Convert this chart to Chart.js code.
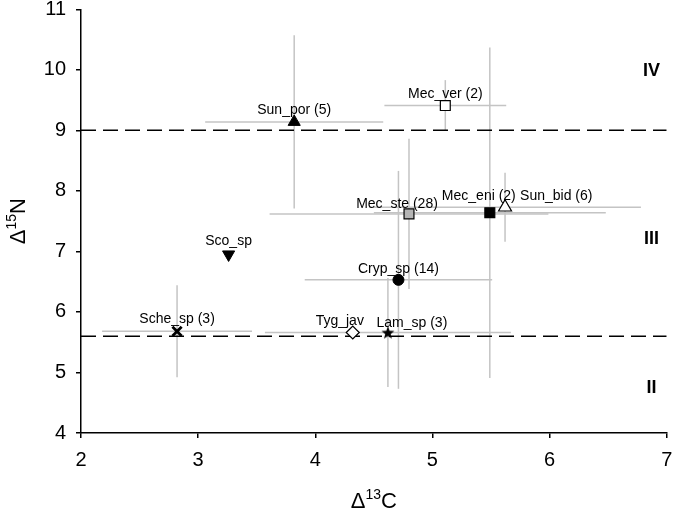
<!DOCTYPE html>
<html>
<head>
<meta charset="utf-8">
<script src="https://cdn.jsdelivr.net/npm/chart.js@4"></script>
<style>
  html, body { margin: 0; padding: 0; background: #fff; }
  #wrap { width: 676px; height: 512px; }
</style>
</head>
<body>
<div id="wrap"><canvas id="isoChart" width="676" height="512"></canvas></div>
<script>
// species means and SD (delta 13C / delta 15N)
const species = ['Sun_por (5)', 'Mec_ver (2)', 'Mec_ste (28)', 'Mec_eni (2)', 'Sun_bid (6)',
                 'Sco_sp', 'Cryp_sp (14)', 'Sche_sp (3)', 'Tyg_jav', 'Lam_sp (3)'];
const d13C = [3.82, 5.11, 4.80, 5.49, 5.62, 3.26, 4.71, 2.82, 4.32, 4.62];
const d15N = [9.14, 9.41, 7.62, 7.64, 7.73, 6.95, 6.53, 5.68, 5.66, 5.66];
const sdC  = [0.76, 0.52, 1.19, 0.99, 1.16, 0,    0.80, 0.64, 0,    1.05];
const sdN  = [1.43, 0.42, 1.24, 2.73, 0.57, 0,    1.80, 0.76, 0,    0.90];

// trophic level boundaries and names
const levelLines = [9, 5.6];
const levelNames = ['IV', 'III', 'II'];
const levelY = [9.98, 7.21, 4.74];

const xTicks = [2, 3, 4, 5, 6, 7];
const yTicks = [4, 5, 6, 7, 8, 9, 10, 11];

const FONT = "'Liberation Sans', Arial, sans-serif";

// filled star for Lam_sp
function makeStar() {
  var c = document.createElement('canvas');
  c.width = 14; c.height = 14;
  var g = c.getContext('2d');
  g.beginPath();
  for (var i = 0; i < 10; i++) {
    var r = (i % 2 == 0) ? 6.8 : 2.8;
    var a = -Math.PI / 2 + i * Math.PI / 5;
    var px = 7 + r * Math.cos(a), py = 7.6 + r * Math.sin(a);
    if (i == 0) g.moveTo(px, py); else g.lineTo(px, py);
  }
  g.closePath();
  g.fillStyle = '#000';
  g.fill();
  return c;
}
var star = makeStar();

var markerStyle = ['triangle', 'rect', 'rect', 'rect', 'triangle', 'triangle', 'circle', 'crossRot', 'rectRot', star];
var markerFill  = ['#000', '#fff', '#b4b4b4', '#000', '#fff', '#000', '#000', '#000', '#fff', '#000'];
var markerRot   = [0, 0, 0, 0, 0, 180, 0, 0, 0, 0];
var markerSize  = [7, 7, 7, 7, 7.5, 7, 5.5, 6.5, 6.5, 7];
var markerLine  = [1, 1.2, 1.2, 1.2, 1.2, 1, 1, 2.8, 1.2, 1];

// label offsets from the marker (px), and alignment
var labDx = [0, 0, -12, -11, 15, 0, 0, 0, -13, 24];
var labDy = [-8, -8, -6, -13, -7, -9, -7, -8, -8, -6];
var labAlign = ['center', 'center', 'center', 'center', 'left', 'center', 'center', 'center', 'center', 'center'];

var points = d13C.map(function (x, i) { return { x: x, y: d15N[i] }; });

var errorBars = {
  id: 'errorBars',
  beforeDatasetsDraw: function (chart) {
    var ctx = chart.ctx, xs = chart.scales.x, ys = chart.scales.y;
    ctx.save();
    ctx.strokeStyle = '#c4c4c4';
    ctx.lineWidth = 1.5;
    for (var i = 0; i < d13C.length; i++) {
      var px = xs.getPixelForValue(d13C[i]), py = ys.getPixelForValue(d15N[i]);
      if (sdC[i] > 0) {
        ctx.beginPath();
        ctx.moveTo(xs.getPixelForValue(d13C[i] - sdC[i]), py);
        ctx.lineTo(xs.getPixelForValue(d13C[i] + sdC[i]), py);
        ctx.stroke();
      }
      if (sdN[i] > 0) {
        ctx.beginPath();
        ctx.moveTo(px, ys.getPixelForValue(d15N[i] - sdN[i]));
        ctx.lineTo(px, ys.getPixelForValue(d15N[i] + sdN[i]));
        ctx.stroke();
      }
    }
    ctx.restore();
  }
};

var textLayer = {
  id: 'textLayer',
  afterDraw: function (chart) {
    var ctx = chart.ctx, xs = chart.scales.x, ys = chart.scales.y, area = chart.chartArea;
    ctx.save();
    ctx.fillStyle = '#000';
    // species names
    ctx.font = '14px ' + FONT;
    ctx.textBaseline = 'alphabetic';
    for (var i = 0; i < species.length; i++) {
      ctx.textAlign = labAlign[i];
      ctx.fillText(species[i], xs.getPixelForValue(d13C[i]) + labDx[i], ys.getPixelForValue(d15N[i]) + labDy[i]);
    }
    // trophic levels
    ctx.font = 'bold 18px ' + FONT;
    ctx.textAlign = 'center';
    ctx.textBaseline = 'middle';
    for (var k = 0; k < levelNames.length; k++) {
      ctx.fillText(levelNames[k], xs.getPixelForValue(6.87), ys.getPixelForValue(levelY[k]));
    }
    // x title: delta 13C
    var cx = (area.left + area.right) / 2;
    var big = '22px ' + FONT, small = '14px ' + FONT;
    ctx.textBaseline = 'alphabetic';
    ctx.textAlign = 'left';
    ctx.font = big; var w1 = ctx.measureText('\u0394').width, w3 = ctx.measureText('C').width;
    ctx.font = small; var w2 = ctx.measureText('13').width;
    var sx = cx - (w1 + w2 + w3) / 2, base = 508;
    ctx.font = big; ctx.fillText('\u0394', sx, base);
    ctx.font = small; ctx.fillText('13', sx + w1, base - 9);
    ctx.font = big; ctx.fillText('C', sx + w1 + w2, base);
    // y title: delta 15N
    ctx.translate(25, (area.top + area.bottom) / 2);
    ctx.rotate(-Math.PI / 2);
    ctx.font = big; w1 = ctx.measureText('\u0394').width; w3 = ctx.measureText('N').width;
    ctx.font = small; w2 = ctx.measureText('15').width;
    sx = -(w1 + w2 + w3) / 2;
    ctx.font = big; ctx.fillText('\u0394', sx, 0);
    ctx.font = small; ctx.fillText('15', sx + w1, -9);
    ctx.font = big; ctx.fillText('N', sx + w1 + w2, 0);
    ctx.restore();
  }
};

var datasets = [{
  label: 'species',
  data: points,
  pointStyle: markerStyle,
  pointBackgroundColor: markerFill,
  pointBorderColor: '#000',
  pointBorderWidth: markerLine,
  pointRotation: markerRot,
  pointRadius: markerSize,
  showLine: false
}];
levelLines.forEach(function (v) {
  datasets.push({
    type: 'line',
    data: [{ x: xTicks[0], y: v }, { x: xTicks[xTicks.length - 1], y: v }],
    borderColor: '#000',
    borderWidth: 1.5,
    borderDash: [15, 7],
    pointRadius: 0,
    fill: false
  });
});

var ctx = document.getElementById('isoChart').getContext('2d');
var isoChart = new Chart(ctx, {
  type: 'scatter',
  data: { datasets: datasets },
  plugins: [errorBars, textLayer],
  options: {
    responsive: false,
    animation: false,
    layout: { padding: { left: 0, top: 8, right: 7, bottom: 0 } },
    plugins: { legend: { display: false }, tooltip: { enabled: false } },
    scales: {
      x: {
        type: 'linear',
        min: xTicks[0], max: xTicks[xTicks.length - 1],
        afterBuildTicks: function (s) { s.ticks = xTicks.map(function (v) { return { value: v }; }); },
        ticks: { color: '#000', font: { size: 20, family: FONT }, padding: 10, maxRotation: 0 },
        grid: { drawOnChartArea: false, tickLength: 5, color: '#000', lineWidth: 1.5 },
        border: { color: '#000', width: 1.5 },
        afterFit: function (s) { s.height = 79; s.paddingLeft = 0; s.paddingRight = 0; }
      },
      y: {
        type: 'linear',
        min: yTicks[0], max: yTicks[yTicks.length - 1],
        afterBuildTicks: function (s) { s.ticks = yTicks.map(function (v) { return { value: v }; }); },
        ticks: { color: '#000', font: { size: 20, family: FONT }, padding: 10 },
        grid: { drawOnChartArea: false, tickLength: 5, color: '#000', lineWidth: 1.5 },
        border: { color: '#000', width: 1.5 },
        afterFit: function (s) { s.width = 81; s.paddingTop = 0; s.paddingBottom = 0; }
      }
    }
  }
});
</script>
</body>
</html>
